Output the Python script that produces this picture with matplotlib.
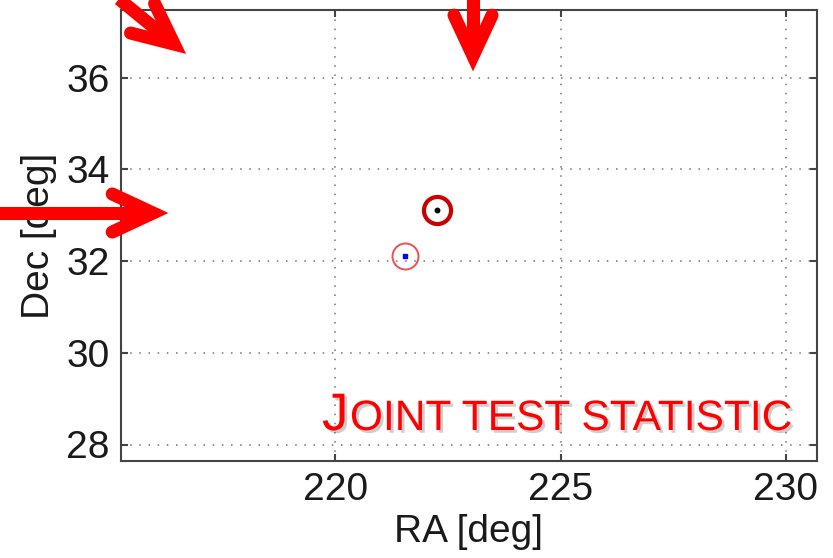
import matplotlib
matplotlib.use("Agg")
import matplotlib.pyplot as plt
import matplotlib.patheffects as pe
import numpy as np

plt.rcParams['font.family'] = ['Liberation Sans', 'DejaVu Sans']

# best-fit positions [deg]
joint_ra, joint_dec = [222.25], [33.11]
single_ra, single_dec = [221.54], [32.11]

ra_ticks = [220, 225, 230]
dec_ticks = [28, 30, 32, 34, 36]
ra_lim = (215.25, 230.69)
dec_lim = (27.64, 37.48)

W, H = 833, 558
fig = plt.figure(figsize=(W / 100, H / 100), dpi=100)
ax = fig.add_axes([121 / W, 1 - 461 / H, (817 - 121) / W, (461 - 10) / H])

ax.set_xlim(ra_lim)
ax.set_ylim(dec_lim)
ax.set_xticks(ra_ticks)
ax.set_yticks(dec_ticks)
ax.grid(True, linestyle=(0, (1, 5)), color='0.45', linewidth=1.1)
ax.tick_params(direction='in', length=5, width=1.5, top=True, right=True,
               labelsize=28, labelcolor='#1a1a1a', color='#444444', pad=8)
for s in ax.spines.values():
    s.set_linewidth(1.5)
    s.set_color('#444444')
ax.set_xlabel('RA [deg]', fontsize=28, color='#1a1a1a', labelpad=4)
ax.set_ylabel('Dec [deg]', fontsize=28, color='#1a1a1a', labelpad=7)

# contours of the two test statistics
ax.plot(joint_ra, joint_dec, 'o', ms=19.5, mfc='none', mec='#c80000', mew=3.0)
ax.plot(joint_ra, joint_dec, 'o', ms=3.2, color='k')
ax.plot(single_ra, single_dec, 'o', ms=18.7, mfc='none', mec='#ee5050', mew=1.4)
ax.plot(single_ra, single_dec, 's', ms=3, color='blue')

# overlay in pixel units for the arrows and the caption
over = fig.add_axes([0, 0, 1, 1], zorder=5)
over.set_xlim(0, W)
over.set_ylim(H, 0)
over.axis('off')

arrows = [((108, -10), (185, 53)), ((473, -10), (473, 70)), ((-10, 213), (167, 213))]
for tail, tip in arrows:
    tail = np.array(tail, float)
    tip = np.array(tip, float)
    d = (tip - tail) / np.hypot(*(tip - tail))
    vertex = tip - 14 * d
    arms = []
    for ang in (25, -25):
        a = np.radians(ang)
        rot = np.array([[np.cos(a), -np.sin(a)], [np.sin(a), np.cos(a)]])
        arms.append(vertex + 45 * (rot @ -d))
    over.plot([tail[0], vertex[0]], [tail[1], vertex[1]], color='red', lw=9.4,
              solid_capstyle='butt')
    over.plot([arms[0][0], vertex[0], arms[1][0]], [arms[0][1], vertex[1], arms[1][1]],
              color='red', lw=9.4, solid_joinstyle='miter', solid_capstyle='round')

shadow = [pe.withSimplePatchShadow(offset=(2, -2), shadow_rgbFace='0.45', alpha=0.35)]
t1 = over.text(322, 430, 'J', fontsize=38, color='red', va='baseline', ha='left',
               path_effects=shadow)
fig.canvas.draw()
x1 = t1.get_window_extent().x1
over.text(x1 + 1.5, 430, 'OINT TEST STATISTIC', fontsize=30.6, color='red',
          va='baseline', ha='left', path_effects=shadow)

fig.savefig('out.png', dpi=100)
